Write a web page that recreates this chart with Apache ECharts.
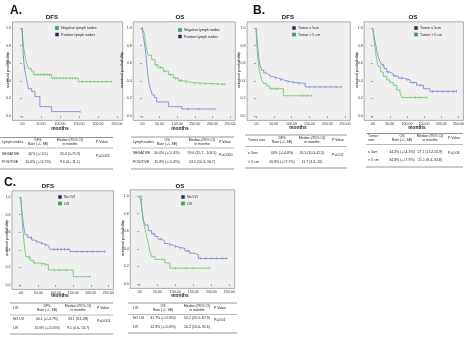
<!DOCTYPE html>
<html><head><meta charset="utf-8">
<script src="https://cdn.jsdelivr.net/npm/echarts@6/dist/echarts.min.js"></script>
<style>html,body{margin:0;padding:0;background:#fff}#c{width:467px;height:338px}</style>
</head><body><div id="c"></div><script>
// ---------- tick labels ----------
const xTicks = [0, 50, 100, 150, 200, 250];
const yTicks = [0, 0.2, 0.4, 0.6, 0.8, 1.0];

// ---------- Panel A: lymph nodes ----------
const aDfsNegT = [0, 1.5, 3, 5, 8, 10.5, 14, 17, 24.5, 30, 78, 148, 236];
const aDfsNegS = [1, 0.92, 0.84, 0.76, 0.68, 0.62, 0.58, 0.54, 0.51, 0.47, 0.43, 0.39, 0.39];
const aDfsNegC = [35, 42, 48, 55, 60, 66, 72, 85, 92, 100, 108, 115, 125, 132, 140, 160, 170, 180, 190, 200, 210, 222, 236];
const aDfsPosT = [0, 1.5, 3.5, 6, 8.8, 12.3, 16.7, 25.4, 34, 47, 78, 153];
const aDfsPosS = [1, 0.85, 0.67, 0.56, 0.485, 0.41, 0.31, 0.28, 0.22, 0.106, 0.05, 0.05];
const aDfsPosC = [4, 7, 153];

const aOsNegT = [0, 3, 6.6, 10.4, 13.3, 18, 27.5, 37, 46, 60, 75, 89, 103, 120, 141, 236];
const aOsNegS = [1, 0.97, 0.94, 0.83, 0.75, 0.69, 0.64, 0.58, 0.55, 0.51, 0.47, 0.43, 0.40, 0.38, 0.36, 0.36];
const aOsNegC = [40, 52, 65, 80, 95, 108, 112, 125, 150, 165, 180, 200, 215, 228, 236];
const aOsPosT = [0, 3, 6, 9.5, 13.3, 16, 20, 24.6, 29, 35, 41.6, 75, 113, 207];
const aOsPosS = [1, 0.93, 0.85, 0.75, 0.60, 0.49, 0.37, 0.30, 0.24, 0.21, 0.16, 0.106, 0.08, 0.08];
const aOsPosC = [2, 130, 160, 207];

// ---------- Panel B: tumor size ----------
const bDfsSmT = [0, 1.5, 3, 4.7, 7.5, 11.2, 16, 22, 28, 36, 44, 63, 77, 95, 114, 138, 241];
const bDfsSmS = [1, 0.95, 0.88, 0.79, 0.67, 0.58, 0.52, 0.49, 0.47, 0.45, 0.43, 0.41, 0.39, 0.38, 0.37, 0.33, 0.33];
const bDfsSmC = [40, 55, 70, 90, 105, 120, 150, 165, 180, 195, 210, 225, 241];
const bDfsLgT = [0, 1.8, 4.7, 7.5, 11.2, 16, 20.6, 30, 39, 77, 156];
const bDfsLgS = [1, 0.83, 0.67, 0.56, 0.485, 0.41, 0.37, 0.34, 0.31, 0.23, 0.23];
const bDfsLgC = [45, 55, 60, 130, 145, 156];

const bOsSmT = [0, 2, 4.5, 7.7, 11.7, 16.4, 21.3, 27, 33, 41, 50, 60, 75, 89, 109, 128, 148, 167, 245];
const bOsSmS = [1, 0.96, 0.9, 0.83, 0.75, 0.67, 0.62, 0.58, 0.54, 0.50, 0.48, 0.455, 0.43, 0.41, 0.38, 0.35, 0.31, 0.28, 0.28];
const bOsSmC = [30, 45, 65, 85, 100, 118, 140, 175, 190, 205, 220, 235, 245];
const bOsLgT = [0, 3.8, 7.7, 11.7, 16.4, 23.3, 31, 41, 50, 60, 70, 80, 85, 158];
const bOsLgS = [1, 0.86, 0.75, 0.64, 0.56, 0.50, 0.45, 0.41, 0.38, 0.35, 0.295, 0.26, 0.21, 0.21];
const bOsLgC = [110, 125, 140, 158];

// ---------- Panel C: LVI ----------
const cDfsNoT = [0, 2.8, 5.6, 9.4, 13.2, 20, 31.4, 40, 50, 65, 79, 83.6, 140.7, 240.6];
const cDfsNoS = [1, 0.87, 0.76, 0.64, 0.57, 0.54, 0.51, 0.49, 0.47, 0.45, 0.435, 0.405, 0.38, 0.38];
const cDfsNoC = [30, 45, 60, 70, 95, 105, 115, 125, 135, 160, 175, 190, 205, 220, 240];
const cDfsLviT = [0, 2.8, 5.6, 9.4, 12.3, 15, 26.5, 36, 55, 79, 150, 198];
const cDfsLviS = [1, 0.83, 0.64, 0.49, 0.38, 0.32, 0.28, 0.25, 0.23, 0.17, 0.094, 0.094];
const cDfsLviC = [25, 40, 60, 70, 95, 110, 130, 198];

const cOsNoT = [0, 4.7, 8.4, 11.2, 15.8, 25, 34, 43.6, 52, 62, 70, 80.6, 95, 108, 127, 140, 155, 164, 243];
const cOsNoS = [1, 0.935, 0.82, 0.727, 0.67, 0.606, 0.57, 0.54, 0.51, 0.49, 0.46, 0.44, 0.42, 0.405, 0.375, 0.35, 0.33, 0.29, 0.29];
const cOsNoC = [40, 60, 85, 100, 115, 135, 170, 185, 200, 215, 230, 243];
const cOsLviT = [0, 6.5, 11.2, 15.8, 20.4, 25, 29.7, 34.4, 43.6, 71, 85, 196];
const cOsLviS = [1, 0.86, 0.71, 0.63, 0.54, 0.46, 0.37, 0.31, 0.28, 0.24, 0.18, 0.18];
const cOsLviC = [100, 130, 150, 196];

// ---------- legends / table texts ----------
const aLegend = ['Negative lymph nodes', 'Positive lymph nodes'];
const bLegend = ['Tumor \u2264 5cm', 'Tumor > 5 cm'];
const cLegend = ['No LVI', 'LVI'];

const aDfsHead = ['Lymph nodes', 'DFS\nRate (+/- SE)', 'Median (95% CI)\nin months', 'P Value'];
const aDfsRows = [['NEGATIVE', '40% (+/-5.5)', '25.0 (1-75.9)'], ['POSITIVE', '10.6% (+/-3.7%)', '9.6 (4.- 11.1)']];
const aDfsP = 'P=0.002';
const aOsHead = ['Lymph nodes', 'OS\nRate (+/- SE)', 'Median (95% CI)\nin months', 'P Value'];
const aOsRows = [['NEGATIVE', '50.0% (+/-5.4%)', '59.6 (15.7 - 103.5)'], ['POSITIVE', '15.8% (+/-5.8%)', '13.5 (10.3- 16.7)']];
const aOsP = 'P=0.000';
const bDfsHead = ['Tumor size', 'DFS\nRate (+/- SE)', 'Median (95% CI)\nin months', 'P Value'];
const bDfsRows = [['\u2264 5cm', '40% (+/-4.8%)', '26.5 (10.5-42.5)'], ['> 5 cm', '26.8% (+/-7.7%)', '11.7 (3.3- 20)']];
const bDfsP = 'P=0.02';
const bOsHead = ['Tumor\nsize', 'OS\nRate (+/- SE)', 'Median (95% CI)\nin months', 'P Value'];
const bOsRows = [['\u2264 5cm', '44.2% (+/-4.3%)', '27.1 (13.2-55.9)'], ['> 5 cm', '34.8% (+/-7.9%)', '21.1 (8.4- 33.8)']];
const bOsP = 'P=0.03';
const cDfsHead = ['LVI', 'DFS\nRate (+/- SE)', 'Median (95% CI)\nin months', 'P Value'];
const cDfsRows = [['NO LVI', '44.1 (+/-4.7%)', '33.1 (8.1-58)'], ['LVI', '15.6% (+/-5.6%)', '9.1 (4.6- 13.7)']];
const cDfsP = 'P=0.001';
const cOsHead = ['LVI', 'OS\nRate (+/- SE)', 'Median (95% CI)\nin months', 'P Value'];
const cOsRows = [['NO LVI', '31.7% (+/-5.8%)', '54.2 (20.5- 87.9)'], ['LVI', '12.8% (+/-5.8%)', '20.2 (10.0- 31.6)']];
const cOsP = 'P=0.01';

// ---------- styling / layout ----------
const BLUE = '#6f7fcc', GREEN = '#62c462';
const BLUE_SQ = '#1c2a6b', GREEN_SQ = '#2eb34f';
const FONT = '"Liberation Sans", Arial, sans-serif';
const XMIN = -25, XMAX = 265, YMIN = -0.05, YMAX = 1.07;

const panels = [
  {L: {t0: 22, t250: 117, s1: 28, s0: 116}, title: 'DFS', tp: [52, 17], yt: [7.5, 70], mt: [60, 129],
   leg: {x: 57, y: 28, items: aLegend, cols: [GREEN_SQ, BLUE_SQ]},
   curves: [[aDfsNegT, aDfsNegS, aDfsNegC, GREEN], [aDfsPosT, aDfsPosS, aDfsPosC, BLUE]]},
  {L: {t0: 142, t250: 230, s1: 28, s0: 116}, title: 'OS', tp: [180, 17], yt: [122, 70], mt: [180, 129],
   leg: {x: 180, y: 30, items: aLegend, cols: [GREEN_SQ, BLUE_SQ]},
   curves: [[aOsNegT, aOsNegS, aOsNegC, GREEN], [aOsPosT, aOsPosS, aOsPosC, BLUE]]},
  {L: {t0: 256, t250: 345, s1: 28, s0: 116}, title: 'DFS', tp: [288, 17], yt: [239, 70], mt: [298, 128],
   leg: {x: 294, y: 28, items: bLegend, cols: [BLUE_SQ, GREEN_SQ]},
   curves: [[bDfsSmT, bDfsSmS, bDfsSmC, BLUE], [bDfsLgT, bDfsLgS, bDfsLgC, GREEN]]},
  {L: {t0: 372.7, t250: 458.3, s1: 28, s0: 116}, title: 'OS', tp: [413, 17], yt: [357, 70], mt: [417, 128],
   leg: {x: 416, y: 28, items: bLegend, cols: [BLUE_SQ, GREEN_SQ]},
   curves: [[bOsSmT, bOsSmS, bOsSmC, BLUE], [bOsLgT, bOsLgS, bOsLgC, GREEN]]},
  {L: {t0: 20.7, t250: 108.3, s1: 197, s0: 285}, title: 'DFS', tp: [48, 186], yt: [6.5, 238], mt: [60, 296],
   leg: {x: 60, y: 197, items: cLegend, cols: [BLUE_SQ, GREEN_SQ]},
   curves: [[cDfsNoT, cDfsNoS, cDfsNoC, BLUE], [cDfsLviT, cDfsLviS, cDfsLviC, GREEN]]},
  {L: {t0: 139.3, t250: 229.3, s1: 196, s0: 284}, title: 'OS', tp: [180, 186.5], yt: [123, 238], mt: [180, 296],
   leg: {x: 183, y: 197, items: cLegend, cols: [BLUE_SQ, GREEN_SQ]},
   curves: [[cOsNoT, cOsNoS, cOsNoC, BLUE], [cOsLviT, cOsLviS, cOsLviC, GREEN]]}
];

const tables = [
  {x0: 0, x1: 113, yTop: 137.5, yMid: 148, yBot: 169, hy: 142.5, cols: [2, 38, 70, 96], rows: [154.5, 162.5], pY: 156, head: aDfsHead, body: aDfsRows, p: aDfsP},
  {x0: 131, x1: 234, yTop: 137, yMid: 148, yBot: 169, hy: 142.5, cols: [133, 167, 202, 219], rows: [153.5, 162], pY: 155, head: aOsHead, body: aOsRows, p: aOsP},
  {x0: 245, x1: 347, yTop: 135, yMid: 146.5, yBot: 168, hy: 140, cols: [248, 282, 312, 332], rows: [153.5, 162], pY: 155, head: bDfsHead, body: bDfsRows, p: bDfsP},
  {x0: 366, x1: 463, yTop: 133.5, yMid: 144.5, yBot: 167, hy: 138.5, cols: [368, 402, 430, 448], rows: [152, 160.5], pY: 153, head: bOsHead, body: bOsRows, p: bOsP},
  {x0: 10, x1: 113, yTop: 303, yMid: 315, yBot: 334, hy: 308.5, cols: [13, 47, 78, 97], rows: [319.5, 328], pY: 320.5, head: cDfsHead, body: cDfsRows, p: cDfsP},
  {x0: 128, x1: 237, yTop: 303, yMid: 314.5, yBot: 333, hy: 308.5, cols: [133, 163, 197, 214], rows: [318.5, 327], pY: 319.5, head: cOsHead, body: cOsRows, p: cOsP}
];

function survAt(T, S, t) {
  let v = S[0];
  for (let i = 0; i < T.length; i++) { if (T[i] <= t) v = S[i]; }
  return v;
}
function gridOf(L) {
  const k = (L.t250 - L.t0) / 250, m = L.s0 - L.s1;
  return {left: L.t0 + XMIN * k, top: L.s1 - (YMAX - 1) * m, width: (XMAX - XMIN) * k, height: (YMAX - YMIN) * m,
    show: true, backgroundColor: '#efefef', borderColor: '#7a7a7a', borderWidth: 0.6};
}
function txt(text, x, y, size, opts) {
  opts = opts || {};
  return {type: 'text', x: x, y: y, rotation: opts.rot || 0, silent: true,
    style: {text: text, x: 0, y: 0, fill: opts.color || '#222', align: opts.align || 'center',
      verticalAlign: opts.va || 'middle', font: (opts.bold ? 'bold ' : '') + size + 'px ' + FONT,
      lineHeight: opts.lh || size * 1.05}};
}
function hline(x0, x1, y, w, c) {
  return {type: 'line', silent: true, shape: {x1: x0, y1: y, x2: x1, y2: y}, style: {stroke: c || '#8a8a8a', lineWidth: w}};
}

const grids = [], xAxes = [], yAxes = [], series = [], graphic = [];
panels.forEach((p, i) => {
  grids.push(gridOf(p.L));
  xAxes.push({type: 'value', gridIndex: i, min: XMIN, max: XMAX,
    axisLine: {show: false}, splitLine: {show: false},
    axisTick: {show: true, customValues: xTicks, length: 2, lineStyle: {color: '#555', width: 0.5}},
    axisLabel: {customValues: xTicks, fontSize: 3.6, margin: 1.2, color: '#333', fontFamily: FONT,
      formatter: v => v === 0 ? '.00' : v.toFixed(2)}});
  yAxes.push({type: 'value', gridIndex: i, min: YMIN, max: YMAX,
    axisLine: {show: false}, splitLine: {show: false},
    axisTick: {show: true, customValues: yTicks, length: 2, lineStyle: {color: '#555', width: 0.5}},
    axisLabel: {customValues: yTicks, fontSize: 3.6, margin: 1.5, color: '#333', fontFamily: FONT,
      formatter: v => v.toFixed(1)}});
  p.curves.forEach(c => {
    const [T, S, C, col] = c;
    series.push({type: 'line', xAxisIndex: i, yAxisIndex: i, step: 'end', showSymbol: false, silent: true,
      data: T.map((t, j) => [t, S[j]]), lineStyle: {width: 0.8, color: col}, z: 3});
    series.push({type: 'scatter', xAxisIndex: i, yAxisIndex: i, symbol: 'rect', symbolSize: [0.7, 2.6], silent: true,
      data: C.map(t => [t, survAt(T, S, t)]), itemStyle: {color: col}, z: 4});
  });
  graphic.push(txt(p.title, p.tp[0], p.tp[1], 6.2, {bold: true}));
  graphic.push(txt('survival probability', p.yt[0], p.yt[1], 4.4, {rot: Math.PI / 2}));
  graphic.push(txt('months', p.mt[0], p.mt[1], 4.8, {bold: true}));
  p.leg.items.forEach((name, j) => {
    const yy = p.leg.y + j * 6.5;
    graphic.push({type: 'rect', silent: true, shape: {x: p.leg.x - 1.6, y: yy - 1.6, width: 3.2, height: 3.2},
      style: {fill: p.leg.cols[j], stroke: '#333', lineWidth: 0.3}});
    graphic.push(txt(name, p.leg.x + 4, yy, 3.6, {align: 'left'}));
  });
});

tables.forEach(tb => {
  graphic.push(hline(tb.x0, tb.x1, tb.yTop, 0.9));
  graphic.push(hline(tb.x0, tb.x1, tb.yMid, 0.6));
  graphic.push(hline(tb.x0, tb.x1, tb.yBot, 0.9));
  const al = ['left', 'center', 'center', 'left'];
  tb.head.forEach((h, j) => graphic.push(txt(h, tb.cols[j], tb.hy, 3.5, {align: al[j], lh: 4})));
  tb.body.forEach((r, ri) => r.forEach((cell, j) => graphic.push(txt(cell, tb.cols[j], tb.rows[ri], 3.5, {align: al[j]}))));
  graphic.push(txt(tb.p, tb.cols[3], tb.pY, 3.6, {align: 'left'}));
});

graphic.push(txt('A.', 16, 11, 12, {bold: true, color: '#111'}));
graphic.push(txt('B.', 259, 11, 12, {bold: true, color: '#111'}));
graphic.push(txt('C.', 10, 183, 12, {bold: true, color: '#111'}));

const chart = echarts.init(document.getElementById('c'), null, {renderer: 'canvas'});
chart.setOption({animation: false, grid: grids, xAxis: xAxes, yAxis: yAxes, series: series, graphic: graphic});
</script></body></html>
